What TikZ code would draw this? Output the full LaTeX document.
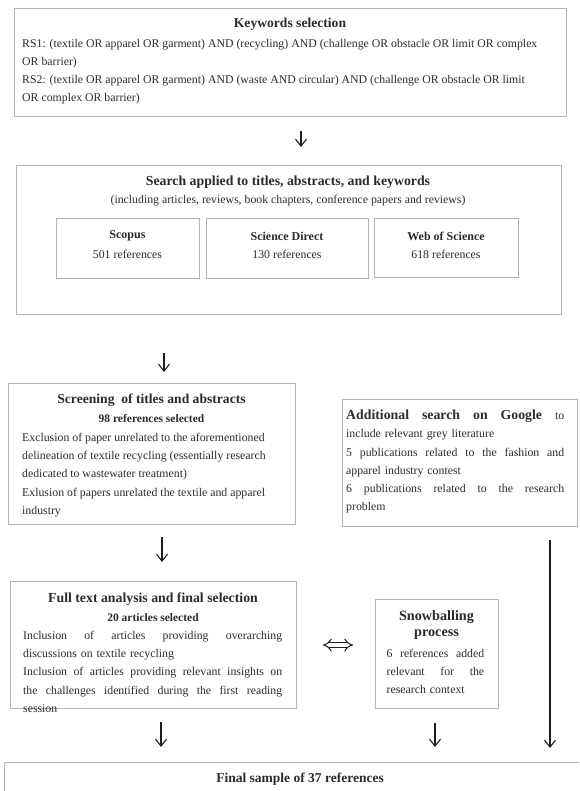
\documentclass[tikz,border=0pt]{standalone}
\usepackage{fontspec}
\setmainfont{Liberation Serif}
\usetikzlibrary{arrows.meta}
\definecolor{boxgray}{HTML}{B4B4B4}
\definecolor{ink}{HTML}{2B2B2B}
\definecolor{arrowink}{HTML}{1E1E1E}
% one fully justified line of a given width
\newcommand{\jline}[2]{\leavevmode\hbox to #1{\spaceskip=0.25em plus 1fil\relax #2}}

\begin{document}
\begin{tikzpicture}[x=1pt,y=-1pt,
  panel/.style={draw=boxgray, line width=1.2pt, anchor=north west, inner sep=0pt},
  bodytext/.style={inner sep=0pt, text=ink, anchor=north west, align=left,
    font=\fontsize{11.8}{18.2}\selectfont},
  plain/.style={inner sep=0pt, text=ink, font=\fontsize{11.8}{14}\selectfont},
  heading/.style={inner sep=0pt, text=ink, font=\fontsize{13.8}{16}\selectfont\bfseries},
  minorhead/.style={inner sep=0pt, text=ink, font=\fontsize{11.5}{13}\selectfont\bfseries},
  boxhead/.style={inner sep=0pt, text=ink, font=\fontsize{12}{14}\selectfont\bfseries},
  flow/.style={draw=arrowink, line width=1.1pt, -{Straight Barb[length=7pt,width=11pt]}},
]
\useasboundingbox (0,0) rectangle (579,791);
\clip (0,0) rectangle (579,791);

% ---- keywords ----
\node[panel, minimum width=552pt, minimum height=108pt] (kw) at (14,8) {};
\node[heading, font=\fontsize{13.6}{15}\selectfont\bfseries] (kwt) at (290,24) {Keywords selection};
\node[bodytext] (kwb) at (22,39) {RS1: (textile OR apparel OR garment) AND (recycling) AND (challenge OR obstacle OR limit OR complex\\
OR barrier)\\
RS2: (textile OR apparel OR garment) AND (waste AND circular) AND (challenge OR obstacle OR limit\\
OR complex OR barrier)};

% ---- database search ----
\node[panel, minimum width=545pt, minimum height=149pt] (srch) at (16,165) {};
\node[heading] (srcht) at (288,182) {Search applied to titles, abstracts, and keywords};
\node[plain] (srchs) at (288,201) {(including articles, reviews, book chapters, conference papers and reviews)};

\node[panel, minimum width=143pt, minimum height=60pt] (scop) at (56,218) {};
\node[boxhead] (scopt) at (127.5,236) {Scopus};
\node[plain] (scopn) at (127.5,254) {501 references};

\node[panel, minimum width=162pt, minimum height=60pt] (sd) at (206,218) {};
\node[boxhead] (sdt) at (287,236) {Science Direct};
\node[plain] (sdn) at (287,254) {130 references};

\node[panel, minimum width=144pt, minimum height=59pt] (wos) at (374,218) {};
\node[boxhead] (wost) at (446,236) {Web of Science};
\node[plain] (wosn) at (446,254) {618 references};

% ---- screening ----
\node[panel, minimum width=287pt, minimum height=141pt] (scr) at (8,383) {};
\node[heading, font=\fontsize{13.6}{16}\selectfont\bfseries] (scrt) at (151.5,400) {Screening \ of titles and abstracts};
\node[minorhead] (scrs) at (151.5,419) {98 references selected};
\node[bodytext] (scrb) at (22,433) {Exclusion of paper unrelated to the aforementioned\\
delineation of textile recycling (essentially research\\
dedicated to wastewater treatment)\\
Exlusion of papers unrelated the textile and apparel\\
industry};

% ---- grey literature ----
\node[panel, minimum width=235pt, minimum height=127pt] (ggl) at (342,399) {};
\node[bodytext, text width=218pt] (gglb) at (346,410) {\jline{218pt}{{\fontsize{13.8}{18.2}\selectfont\bfseries Additional search on Google} to}\\
include relevant grey literature\\
\jline{218pt}{5 publications related to the fashion and}\\
apparel industry contest\\
\jline{218pt}{6 publications related to the research}\\
problem};

% ---- full text analysis ----
\node[panel, minimum width=286pt, minimum height=127pt] (full) at (10,581) {};
\node[heading] (fullt) at (153,599) {Full text analysis and final selection};
\node[minorhead] (fulls) at (153,618) {20 articles selected};
\node[bodytext, text width=259pt] (fullb) at (23,631) {\jline{259pt}{Inclusion of articles providing overarching}\\
discussions on textile recycling\\
\jline{259pt}{Inclusion of articles providing relevant insights on}\\
\jline{259pt}{the challenges identified during the first reading}\\
session};

% ---- snowballing ----
\node[panel, minimum width=123pt, minimum height=109pt] (snow) at (375,599) {};
\node[heading, font=\fontsize{14.2}{16}\selectfont\bfseries] (snowt) at (436.5,617) {Snowballing};
\node[heading, font=\fontsize{14.2}{16}\selectfont\bfseries] (snowp) at (436.5,635) {process};
\node[bodytext, text width=97.5pt] (snowb) at (386.5,649) {\jline{97.5pt}{6 references added}\\
\jline{97.5pt}{relevant for the}\\
research context};

% ---- final sample ----
\node[panel, minimum width=600pt, minimum height=60pt] (fin) at (4,762) {};
\node[heading, font=\fontsize{13.5}{15}\selectfont\bfseries] (fint) at (300,779) {Final sample of 37 references};

% ---- arrow end points ----
\coordinate (a1s) at (301,131);  \coordinate (a1e) at (301,147);
\coordinate (a2s) at (164,353);  \coordinate (a2e) at (164,372);
\coordinate (a3s) at (162,537);  \coordinate (a3e) at (162,562);
\coordinate (a4s) at (161,722);  \coordinate (a4e) at (161,747);
\coordinate (a5s) at (435,723);  \coordinate (a5e) at (435,747);
\coordinate (a6s) at (550,540);  \coordinate (a6e) at (550,748);
\coordinate (dbl) at (323,645);  \coordinate (dbr) at (353,645);

\draw[flow] (a1s) -- (a1e);
\draw[flow] (a2s) -- (a2e);
\draw[flow] (a3s) -- (a3e);
\draw[flow] (a4s) -- (a4e);
\draw[flow] (a5s) -- (a5e);
\draw[flow] (a6s) -- (a6e);
\draw[draw=arrowink, line width=1pt, double, double distance=3.5pt,
  {Implies[length=6pt,width=13pt]}-{Implies[length=6pt,width=13pt]}] (dbl) -- (dbr);
\end{tikzpicture}
\end{document}
